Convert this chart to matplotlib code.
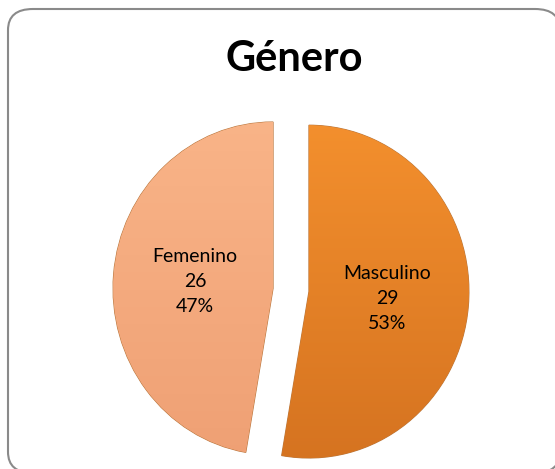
import matplotlib
matplotlib.use("Agg")
import matplotlib.pyplot as plt
import numpy as np
from matplotlib.patches import FancyBboxPatch

categories = ["Masculino", "Femenino"]
values = [29, 26]
percents = ["53%", "47%"]
colors_top = ["#F7932F", "#FAB68A"]
colors_bot = ["#D2701F", "#EE9E72"]

W, H = 555, 469
fig = plt.figure(figsize=(W / 100, H / 100), dpi=100)
fig.patch.set_facecolor("white")

# rounded frame
frame = FancyBboxPatch((8 / W, -4 / H), 552 / W, 464 / H,
                       boxstyle="round,pad=0,rounding_size=0.045",
                       transform=fig.transFigure, facecolor="white",
                       edgecolor="#8a8a8a", linewidth=1.5, zorder=1)
fig.patches.append(frame)

ax = fig.add_axes([0, 0, 1, 1])
ax.set_zorder(2)
ax.patch.set_alpha(0)

stretch = 1.04  # slight vertical stretch of the pie (perspective look)
cx, cy, r = 291, (H - 290) / stretch, 160
labels = [f"{c}\n{v}\n{p}" for c, v, p in zip(categories, values, percents)]
wedges, texts = ax.pie(values, labels=labels, startangle=90, counterclock=False,
                       explode=[18, 18], center=(cx, cy), radius=r,
                       labeldistance=0.49, colors=colors_top,
                       wedgeprops=dict(edgecolor="#b9783f", linewidth=0.8),
                       textprops=dict(fontsize=14, family=["Lato", "DejaVu Sans"],
                                      ha="center", va="center", linespacing=1.6))
ax.axis("off")

# vertical gradient shading clipped to each wedge
for w, ct, cb in zip(wedges, colors_top, colors_bot):
    c1 = np.array(matplotlib.colors.to_rgb(ct))
    c2 = np.array(matplotlib.colors.to_rgb(cb))
    t = np.linspace(0, 1, 256)[:, None]
    grad = (c1 * (1 - t) + c2 * t)[:, None, :].repeat(2, axis=1)
    im = ax.imshow(grad, extent=(cx - r - 40, cx + r + 40, cy - r - 40, cy + r + 40),
                   origin="upper", aspect="auto", zorder=w.get_zorder() + 0.1)
    im.set_clip_path(w)
for t in texts:
    t.set_zorder(5)
ax.set_xlim(0, W)
ax.set_ylim(0, H / stretch)
ax.set_aspect("auto")

fig.text(294 / W, 1 - 71 / H, "Género", ha="center", va="baseline",
         fontsize=30, fontweight="bold", family=["Lato", "DejaVu Sans"], zorder=5)

fig.savefig("out.png", dpi=100)
